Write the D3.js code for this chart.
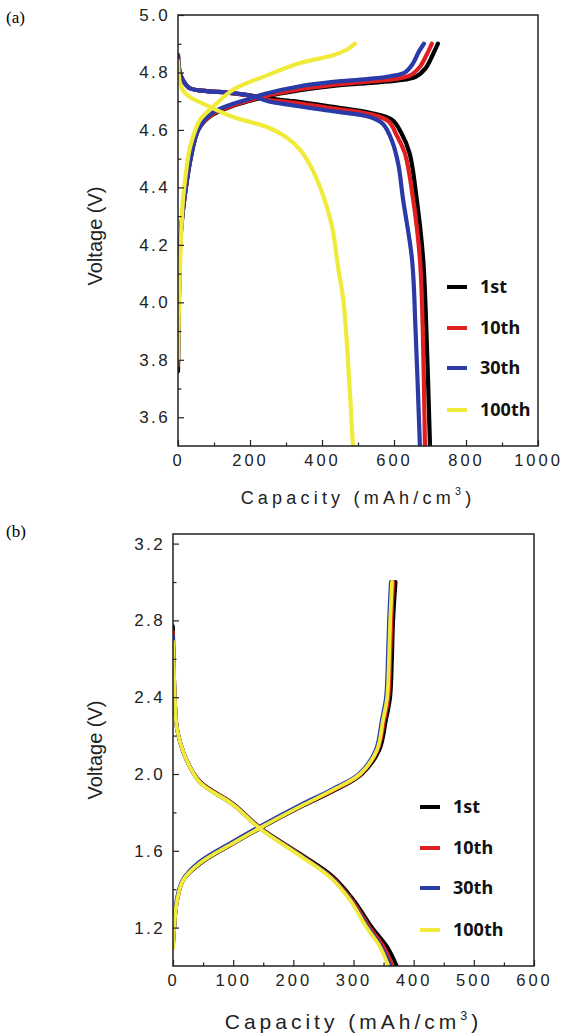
<!DOCTYPE html>
<html>
<head>
<meta charset="utf-8">
<script src="https://cdn.jsdelivr.net/npm/d3@7"></script>
<style>
  body { margin: 0; background: #fff; }
  svg text { font-family: "Liberation Sans", Arial, sans-serif; }
</style>
</head>
<body>
<svg width="562" height="1036"></svg>
<script>
// cycle names and colours
const cycles = ["1st", "10th", "30th", "100th"];
const colors = ["#000000", "#e02020", "#2a3aa8", "#f0ea3a"];

// panel (a): [capacity, voltage]
const aCharge1st = [[0,3.76],[3,4.05],[6,4.2],[12,4.3],[22,4.4],[35,4.5],[56,4.6],[90,4.648],[140,4.678],[190,4.698],[240,4.715],[339,4.738],[431,4.753],[525,4.763],[610,4.772],[660,4.785],[688,4.815],[707,4.86],[722,4.9]];
const aCharge10th = [[0,3.78],[3,4.05],[6,4.2],[12,4.3],[22,4.4],[35,4.5],[56,4.6],[90,4.65],[140,4.68],[190,4.7],[240,4.718],[339,4.742],[431,4.757],[525,4.768],[600,4.777],[645,4.79],[672,4.82],[690,4.86],[705,4.9]];
const aCharge30th = [[0,3.8],[3,4.05],[6,4.2],[12,4.3],[22,4.4],[35,4.5],[56,4.6],[90,4.655],[140,4.685],[190,4.705],[240,4.725],[339,4.752],[431,4.767],[525,4.777],[590,4.787],[630,4.8],[652,4.83],[668,4.87],[683,4.9]];
const aCharge100th = [[0,3.8],[3,4.0],[6,4.15],[10,4.27],[14,4.36],[22,4.45],[30,4.52],[39,4.565],[61,4.635],[97,4.68],[153,4.74],[247,4.79],[339,4.833],[431,4.86],[470,4.88],[492,4.9]];

const aDisch1st = [[0,4.86],[5,4.8],[15,4.77],[33,4.745],[80,4.735],[136,4.73],[200,4.72],[250,4.71],[320,4.7],[430,4.68],[533,4.66],[595,4.635],[620,4.59],[643,4.52],[663,4.36],[681,4.15],[690,3.9],[700,3.5]];
const aDisch10th = [[0,4.86],[5,4.8],[15,4.77],[33,4.745],[80,4.735],[136,4.73],[200,4.72],[250,4.705],[320,4.695],[430,4.675],[533,4.655],[585,4.63],[608,4.58],[630,4.52],[653,4.36],[672,4.15],[680,3.9],[686,3.5]];
const aDisch30th = [[0,4.86],[5,4.8],[15,4.77],[33,4.745],[80,4.735],[136,4.73],[200,4.72],[250,4.7],[320,4.685],[430,4.665],[533,4.645],[570,4.62],[595,4.56],[612,4.48],[625,4.36],[650,4.15],[660,3.9],[672,3.5]];
const aDisch100th = [[0,4.84],[3,4.78],[6,4.76],[15,4.735],[33,4.715],[89,4.68],[153,4.645],[247,4.61],[300,4.575],[340,4.53],[370,4.47],[395,4.4],[414,4.33],[430,4.25],[445,4.12],[460,4.0],[472,3.8],[486,3.5]];

// panel (b): [capacity, voltage]
const bCharge1st = [[0,1.1],[2,1.2],[7,1.344],[17,1.448],[45,1.533],[100,1.637],[145,1.717],[211,1.826],[268,1.913],[314,2.0],[343,2.125],[354,2.28],[361,2.4],[364,2.6],[366,2.8],[370,3.0]];
const bCharge10th = [[0,1.1],[2,1.2],[7,1.344],[17,1.448],[44,1.536],[99,1.64],[144,1.72],[210,1.83],[266,1.915],[312,2.0],[340,2.125],[351,2.28],[358,2.4],[361,2.6],[363,2.8],[366,3.0]];
const bCharge30th = [[0,1.12],[2,1.2],[6,1.344],[16,1.448],[43,1.54],[98,1.645],[143,1.725],[209,1.835],[264,1.92],[309,2.0],[337,2.125],[347,2.28],[354,2.4],[357,2.6],[359,2.8],[362,3.0]];
const bCharge100th = [[0,1.09],[2,1.2],[7,1.344],[17,1.448],[45,1.536],[100,1.64],[145,1.72],[211,1.83],[266,1.917],[311,2.0],[339,2.125],[349,2.28],[356,2.4],[359,2.6],[361,2.8],[364,3.0]];

const bDisch1st = [[0,2.77],[1,2.6],[3,2.4],[7,2.23],[23,2.07],[45,1.96],[100,1.845],[145,1.72],[211,1.585],[266,1.465],[300,1.344],[331,1.2],[356,1.1],[372,1.0]];
const bDisch10th = [[0,2.74],[1,2.6],[3,2.4],[7,2.23],[23,2.07],[45,1.958],[100,1.843],[145,1.718],[211,1.58],[264,1.463],[297,1.344],[327,1.2],[350,1.1],[365,1.0]];
const bDisch30th = [[0,2.72],[1,2.6],[3,2.4],[7,2.23],[23,2.07],[45,1.956],[100,1.84],[145,1.716],[211,1.578],[263,1.461],[295,1.344],[324,1.2],[346,1.1],[361,1.0]];
const bDisch100th = [[0,2.69],[1,2.6],[3,2.4],[7,2.23],[23,2.07],[45,1.955],[100,1.84],[145,1.715],[211,1.575],[262,1.46],[294,1.344],[322,1.2],[344,1.1],[358,1.0]];

// axis ticks
const aXTicks = [0, 200, 400, 600, 800, 1000];
const aYTicks = [3.6, 3.8, 4.0, 4.2, 4.4, 4.6, 4.8, 5.0];
const bXTicks = [0, 100, 200, 300, 400, 500, 600];
const bYTicks = [1.2, 1.6, 2.0, 2.4, 2.8, 3.2];

const svg = d3.select("svg");

const panels = [
  {
    tag: "(a)", tagY: 23,
    left: 178, right: 538, top: 15, bottom: 446,
    xDomain: [0, 1000], yDomain: [3.5, 5.0],
    xTicks: aXTicks, yTicks: aYTicks,
    xMinor: d3.range(100, 1000, 200), yMinor: d3.range(3.7, 5.0, 0.2),
    series: [[aCharge1st, aDisch1st], [aCharge10th, aDisch10th], [aCharge30th, aDisch30th], [aCharge100th, aDisch100th]],
    width: 4.2,
    legendX: 447, legendY: [287, 328, 368, 410],
    xLabelY: 504, xLabelSize: 18, xLabelSpace: 4.2,
    yLabelX: 102, yLabelMid: 236
  },
  {
    tag: "(b)", tagY: 537,
    left: 173, right: 534, top: 534, bottom: 966,
    xDomain: [0, 600], yDomain: [1.0, 3.25],
    xTicks: bXTicks, yTicks: bYTicks,
    xMinor: d3.range(50, 600, 100), yMinor: d3.range(1.4, 3.2, 0.4),
    series: [[bCharge1st, bDisch1st], [bCharge10th, bDisch10th], [bCharge30th, bDisch30th], [bCharge100th, bDisch100th]],
    width: 3.8,
    legendX: 420, legendY: [807, 848, 888, 930],
    xLabelY: 1029, xLabelSize: 21, xLabelSpace: 4,
    yLabelX: 102, yLabelMid: 750
  }
];

panels.forEach((p, pi) => {
  const x = d3.scaleLinear().domain(p.xDomain).range([p.left, p.right]);
  const y = d3.scaleLinear().domain(p.yDomain).range([p.bottom, p.top]);

  svg.append("text")
    .attr("x", 6).attr("y", p.tagY)
    .style("font-family", "'Liberation Serif', 'Times New Roman', serif")
    .style("font-size", "17px")
    .text(p.tag);

  svg.append("clipPath").attr("id", "clip" + pi)
    .append("rect")
    .attr("x", p.left).attr("y", p.top)
    .attr("width", p.right - p.left).attr("height", p.bottom - p.top);

  const line = d3.line()
    .x(d => x(d[0]))
    .y(d => y(d[1]))
    .curve(d3.curveCatmullRom.alpha(0.5));

  const g = svg.append("g").attr("clip-path", `url(#clip${pi})`);
  p.series.forEach((pair, i) => {
    pair.forEach(arr => {
      g.append("path")
        .datum(arr)
        .attr("d", line)
        .attr("fill", "none")
        .attr("stroke", colors[i])
        .attr("stroke-width", p.width)
        .attr("stroke-linecap", "round")
        .attr("stroke-linejoin", "round");
    });
  });

  // box
  svg.append("rect")
    .attr("x", p.left).attr("y", p.top)
    .attr("width", p.right - p.left).attr("height", p.bottom - p.top)
    .attr("fill", "none")
    .attr("stroke", "#222")
    .attr("stroke-width", 1.5);

  // axes with inward ticks
  const xAxis = svg.append("g")
    .attr("transform", `translate(0,${p.bottom})`)
    .call(d3.axisBottom(x).tickValues(p.xTicks).tickSize(-6).tickPadding(8).tickFormat(d3.format("d")));
  const yAxis = svg.append("g")
    .attr("transform", `translate(${p.left},0)`)
    .call(d3.axisLeft(y).tickValues(p.yTicks).tickSize(-6).tickPadding(8).tickFormat(d3.format(".1f")));
  svg.append("g")
    .attr("transform", `translate(0,${p.bottom})`)
    .call(d3.axisBottom(x).tickValues(p.xMinor).tickSize(-3.5).tickFormat(""));
  svg.append("g")
    .attr("transform", `translate(${p.left},0)`)
    .call(d3.axisLeft(y).tickValues(p.yMinor).tickSize(-3.5).tickFormat(""));

  svg.selectAll(".domain").remove();
  svg.selectAll(".tick line").attr("stroke", "#222").attr("stroke-width", 1.2);
  xAxis.selectAll("text")
    .style("font-size", "16.5px")
    .style("letter-spacing", "3px")
    .attr("fill", "#222");
  yAxis.selectAll("text")
    .style("font-size", "17px")
    .style("letter-spacing", "2.4px")
    .attr("fill", "#222");

  // axis titles
  const xt = svg.append("text")
    .attr("x", (p.left + p.right) / 2).attr("y", p.xLabelY)
    .attr("text-anchor", "middle")
    .style("font-size", p.xLabelSize + "px")
    .style("letter-spacing", p.xLabelSpace + "px")
    .attr("fill", "#222");
  xt.append("tspan").text("Capacity (mAh/cm");
  xt.append("tspan").attr("dy", -9).style("font-size", (p.xLabelSize * 0.6) + "px").text("3");
  xt.append("tspan").attr("dy", 9).text(")");

  svg.append("text")
    .attr("transform", `translate(${p.yLabelX},${p.yLabelMid}) rotate(-90)`)
    .attr("text-anchor", "middle")
    .style("font-size", "20px")
    .attr("fill", "#222")
    .text("Voltage (V)");

  // legend
  cycles.forEach((c, i) => {
    const ly = p.legendY[i];
    svg.append("line")
      .attr("x1", p.legendX).attr("x2", p.legendX + 20)
      .attr("y1", ly).attr("y2", ly)
      .attr("stroke", colors[i]).attr("stroke-width", 4);
    svg.append("text")
      .attr("x", p.legendX + 33).attr("y", ly)
      .attr("dy", "0.36em")
      .style("font-family", "'Noto Sans', 'Open Sans', sans-serif")
      .style("font-weight", "bold")
      .style("font-size", "18px")
      .attr("fill", "#111")
      .text(c);
  });
});
</script>
</body>
</html>
